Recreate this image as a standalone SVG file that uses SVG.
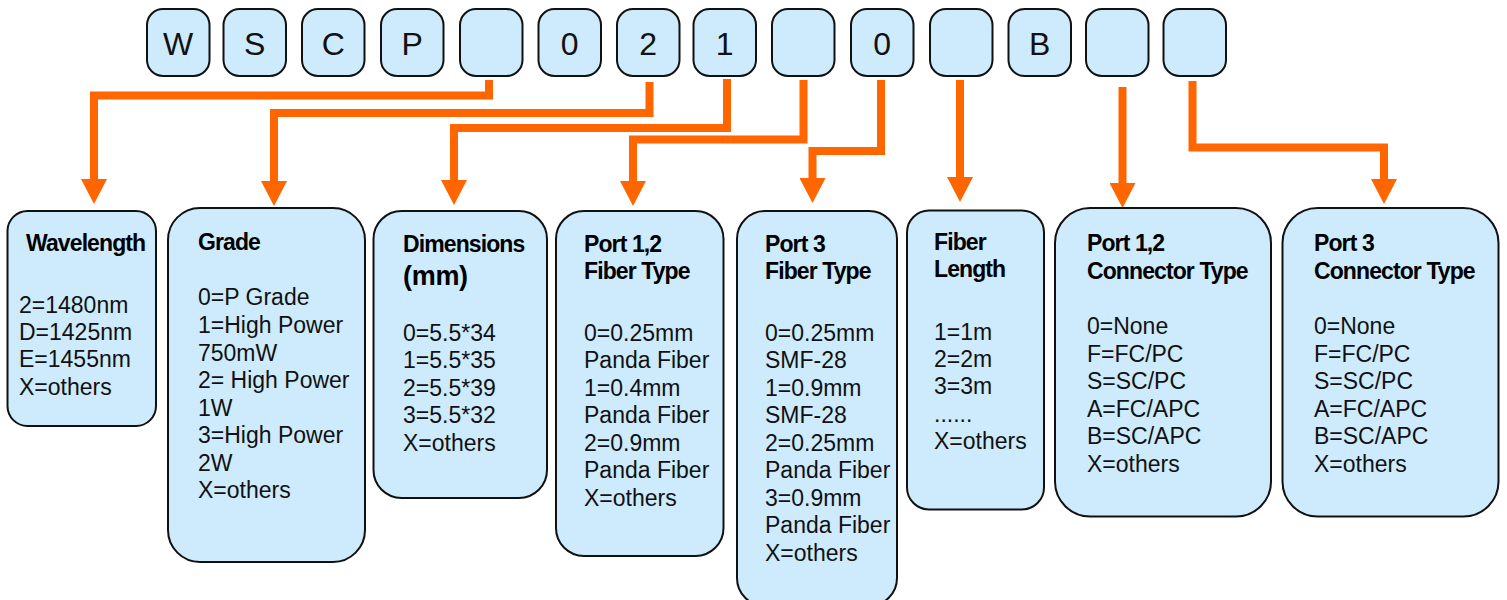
<svg xmlns="http://www.w3.org/2000/svg" width="1507" height="600" viewBox="0 0 1507 600">
<style>
.box{fill:#cdebfd;stroke:#111;stroke-width:2}
.chr{font-family:"Liberation Sans",Arial,sans-serif;font-size:32px;fill:#111;text-anchor:middle}
.ttl{font-family:"Liberation Sans",Arial,sans-serif;font-size:23px;font-weight:bold;letter-spacing:-0.9px;fill:#000}
.big{font-family:"Liberation Sans",Arial,sans-serif;font-size:27px;font-weight:bold;letter-spacing:-0.3px;fill:#000}
.txt{font-family:"Liberation Sans",Arial,sans-serif;font-size:23px;fill:#111}
.con{fill:none;stroke:#ff6600;stroke-width:8;stroke-linejoin:miter;stroke-linecap:butt;marker-end:url(#ah)}
</style>
<defs>
<marker id="ah" markerUnits="userSpaceOnUse" viewBox="0 -13 25 26" markerWidth="25" markerHeight="26" refX="0" refY="0" orient="auto">
<path d="M0,-13 L25,0 L0,13 Z" fill="#ff6600"/>
</marker>
</defs>

<g id="code">
<g id="c1"><rect class="box" x="147" y="9" width="62.5" height="67" rx="16"/><text class="chr" x="178.2" y="55">W</text></g>
<g id="c2"><rect class="box" x="223.5" y="9" width="62.5" height="67" rx="16"/><text class="chr" x="254.7" y="55">S</text></g>
<g id="c3"><rect class="box" x="302" y="9" width="62.5" height="67" rx="16"/><text class="chr" x="333.2" y="55">C</text></g>
<g id="c4"><rect class="box" x="381" y="9" width="62.5" height="67" rx="16"/><text class="chr" x="412.2" y="55">P</text></g>
<g id="c5"><rect class="box" x="460" y="9" width="62.5" height="67" rx="16"/></g>
<g id="c6"><rect class="box" x="538.5" y="9" width="62.5" height="67" rx="16"/><text class="chr" x="569.7" y="55">0</text></g>
<g id="c7"><rect class="box" x="617" y="9" width="62.5" height="67" rx="16"/><text class="chr" x="648.2" y="55">2</text></g>
<g id="c8"><rect class="box" x="693.5" y="9" width="62.5" height="67" rx="16"/><text class="chr" x="724.7" y="55">1</text></g>
<g id="c9"><rect class="box" x="772" y="9" width="62.5" height="67" rx="16"/></g>
<g id="c10"><rect class="box" x="851" y="9" width="62.5" height="67" rx="16"/><text class="chr" x="882.2" y="55">0</text></g>
<g id="c11"><rect class="box" x="930" y="9" width="62.5" height="67" rx="16"/></g>
<g id="c12"><rect class="box" x="1008.5" y="9" width="62.5" height="67" rx="16"/><text class="chr" x="1039.7" y="55">B</text></g>
<g id="c13"><rect class="box" x="1086" y="9" width="62.5" height="67" rx="16"/></g>
<g id="c14"><rect class="box" x="1163.5" y="9" width="62.5" height="67" rx="16"/></g>
</g>

<g id="connectors">
<path class="con" d="M489,80 V95.5 H94 V179"/>
<path class="con" d="M649.5,82 V113 H274 V181"/>
<path class="con" d="M727,79 V128 H454 V180"/>
<path class="con" d="M803.5,80 V139.5 H633 V181"/>
<path class="con" d="M881,80 V151 H812.5 V178"/>
<path class="con" d="M960,80 V177"/>
<path class="con" d="M1122.5,87 V183"/>
<path class="con" d="M1192.5,81 V147.5 H1384 V179"/>
</g>

<g id="wavelength">
<rect class="box" x="7.5" y="211" width="148.5" height="215" rx="20"/>
<text class="ttl" x="26" y="251">Wavelength</text>
<text class="txt" x="19" y="313">2=1480nm</text>
<text class="txt" x="19" y="340">D=1425nm</text>
<text class="txt" x="19" y="367">E=1455nm</text>
<text class="txt" x="19" y="395">X=others</text>
</g>

<g id="grade">
<rect class="box" x="168" y="208" width="197" height="354" rx="32"/>
<text class="ttl" x="198" y="250">Grade</text>
<text class="txt" x="198" y="305">0=P Grade</text>
<text class="txt" x="198" y="333">1=High Power</text>
<text class="txt" x="198" y="361">750mW</text>
<text class="txt" x="198" y="388">2= High Power</text>
<text class="txt" x="198" y="416">1W</text>
<text class="txt" x="198" y="443">3=High Power</text>
<text class="txt" x="198" y="471">2W</text>
<text class="txt" x="198" y="498">X=others</text>
</g>

<g id="dimensions">
<rect class="box" x="373.5" y="211" width="173.5" height="287" rx="28"/>
<text class="ttl" x="403" y="252">Dimensions</text>
<text class="big" x="403" y="285">(mm)</text>
<text class="txt" x="403" y="341">0=5.5*34</text>
<text class="txt" x="403" y="368">1=5.5*35</text>
<text class="txt" x="403" y="396">2=5.5*39</text>
<text class="txt" x="403" y="423">3=5.5*32</text>
<text class="txt" x="403" y="451">X=others</text>
</g>

<g id="port12fiber">
<rect class="box" x="556" y="211" width="167.5" height="345" rx="28"/>
<text class="ttl" x="584" y="252">Port 1,2</text>
<text class="ttl" x="584" y="279">Fiber Type</text>
<text class="txt" x="584" y="341">0=0.25mm</text>
<text class="txt" x="584" y="368">Panda Fiber</text>
<text class="txt" x="584" y="396">1=0.4mm</text>
<text class="txt" x="584" y="423">Panda Fiber</text>
<text class="txt" x="584" y="451">2=0.9mm</text>
<text class="txt" x="584" y="478">Panda Fiber</text>
<text class="txt" x="584" y="506">X=others</text>
</g>

<g id="port3fiber">
<rect class="box" x="737" y="211" width="160" height="395" rx="28"/>
<text class="ttl" x="765" y="252">Port 3</text>
<text class="ttl" x="765" y="279">Fiber Type</text>
<text class="txt" x="765" y="341">0=0.25mm</text>
<text class="txt" x="765" y="368">SMF-28</text>
<text class="txt" x="765" y="396">1=0.9mm</text>
<text class="txt" x="765" y="423">SMF-28</text>
<text class="txt" x="765" y="451">2=0.25mm</text>
<text class="txt" x="765" y="478">Panda Fiber</text>
<text class="txt" x="765" y="506">3=0.9mm</text>
<text class="txt" x="765" y="533">Panda Fiber</text>
<text class="txt" x="765" y="561">X=others</text>
</g>

<g id="fiberlength">
<rect class="box" x="907" y="210.5" width="137" height="299" rx="22"/>
<text class="ttl" x="934" y="250">Fiber</text>
<text class="ttl" x="934" y="277">Length</text>
<text class="txt" x="934" y="340">1=1m</text>
<text class="txt" x="934" y="367">2=2m</text>
<text class="txt" x="934" y="394">3=3m</text>
<text class="txt" x="934" y="422">......</text>
<text class="txt" x="934" y="449">X=others</text>
</g>

<g id="port12conn">
<rect class="box" x="1055" y="208" width="216" height="308.5" rx="35"/>
<text class="ttl" x="1087" y="251">Port 1,2</text>
<text class="ttl" x="1087" y="279">Connector Type</text>
<text class="txt" x="1087" y="334">0=None</text>
<text class="txt" x="1087" y="362">F=FC/PC</text>
<text class="txt" x="1087" y="389">S=SC/PC</text>
<text class="txt" x="1087" y="417">A=FC/APC</text>
<text class="txt" x="1087" y="444">B=SC/APC</text>
<text class="txt" x="1087" y="472">X=others</text>
</g>

<g id="port3conn">
<rect class="box" x="1282.5" y="208" width="216" height="308.5" rx="35"/>
<text class="ttl" x="1314" y="251">Port 3</text>
<text class="ttl" x="1314" y="279">Connector Type</text>
<text class="txt" x="1314" y="334">0=None</text>
<text class="txt" x="1314" y="362">F=FC/PC</text>
<text class="txt" x="1314" y="389">S=SC/PC</text>
<text class="txt" x="1314" y="417">A=FC/APC</text>
<text class="txt" x="1314" y="444">B=SC/APC</text>
<text class="txt" x="1314" y="472">X=others</text>
</g>
</svg>
